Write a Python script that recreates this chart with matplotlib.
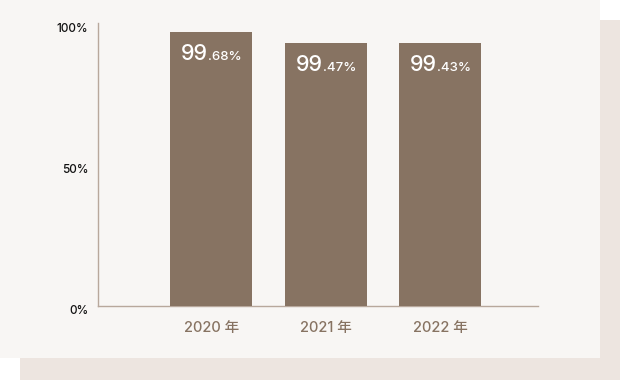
import matplotlib.pyplot as plt
import matplotlib.patches as patches
from matplotlib.transforms import ScaledTranslation, offset_copy

# chart data
years = ["2020 年", "2021 年", "2022 年"]
rate_whole = ["99", "99", "99"]
rate_frac = [".68%", ".47%", ".43%"]
# bar heights as drawn in the reference (percent of axis)
bar_heights = [96.8, 92.9, 92.9]
y_ticks = [0, 50, 100]
y_tick_labels = ["0%", "50%", "100%"]

BAR_COLOR = "#877362"
AXIS_COLOR = "#b8a89c"
PANEL_COLOR = "#f8f6f4"
SHADOW_COLOR = "#ede5e0"
FONT = ["Inter", "Noto Sans CJK JP"]
W, H = 620, 380

fig = plt.figure(figsize=(W / 100, H / 100), dpi=100, facecolor="white")

# shadow card behind the main panel
fig.patches.append(patches.Rectangle((20 / W, 0), 1 - 20 / W, 360 / H,
                                     transform=fig.transFigure, facecolor=SHADOW_COLOR,
                                     edgecolor="none", zorder=0))
fig.patches.append(patches.Rectangle((0, (H - 358) / H), 600 / W, 358 / H,
                                     transform=fig.transFigure, facecolor=PANEL_COLOR,
                                     edgecolor="none", zorder=1))

ax = fig.add_axes([98 / W, (H - 306) / H, 440 / W, 283 / H])
ax.set_facecolor("none")
ax.set_zorder(2)

x = list(range(len(years)))
ax.bar(x, bar_heights, width=0.716, color=BAR_COLOR, zorder=3)

ax.set_xlim(-0.99, 2.855)
ax.set_ylim(0, 100)

for side in ["top", "right"]:
    ax.spines[side].set_visible(False)
for side in ["left", "bottom"]:
    ax.spines[side].set_color(AXIS_COLOR)
    ax.spines[side].set_linewidth(1.0)

ax.set_yticks(y_ticks)
ax.set_yticklabels(y_tick_labels, fontsize=8.5, family=FONT, weight="medium",
                   color="#111111")
ax.tick_params(axis="y", length=0, pad=7)
for lbl in ax.get_yticklabels():
    lbl.set_transform(lbl.get_transform() + ScaledTranslation(0, -4 / 100, fig.dpi_scale_trans))

ax.set_xticks(x)
ax.set_xticklabels(years, fontsize=10.5, family=FONT, weight="medium",
                   color=BAR_COLOR)
ax.tick_params(axis="x", length=0, pad=11)

# value labels inside the bars: big whole part, small fraction
for xi, h, whole, frac in zip(x, bar_heights, rate_whole, rate_frac):
    base = offset_copy(ax.transData, fig=fig, x=-3, y=-28, units="dots")
    ax.text(xi, h, whole, transform=base, ha="right", va="baseline",
            fontsize=15.5, weight="medium", color="white", family=FONT, zorder=4)
    ax.text(xi, h, frac, transform=base, ha="left", va="baseline",
            fontsize=9.5, weight="medium", color="white", family=FONT, zorder=4)

fig.savefig("out.png", dpi=100, facecolor="white")
